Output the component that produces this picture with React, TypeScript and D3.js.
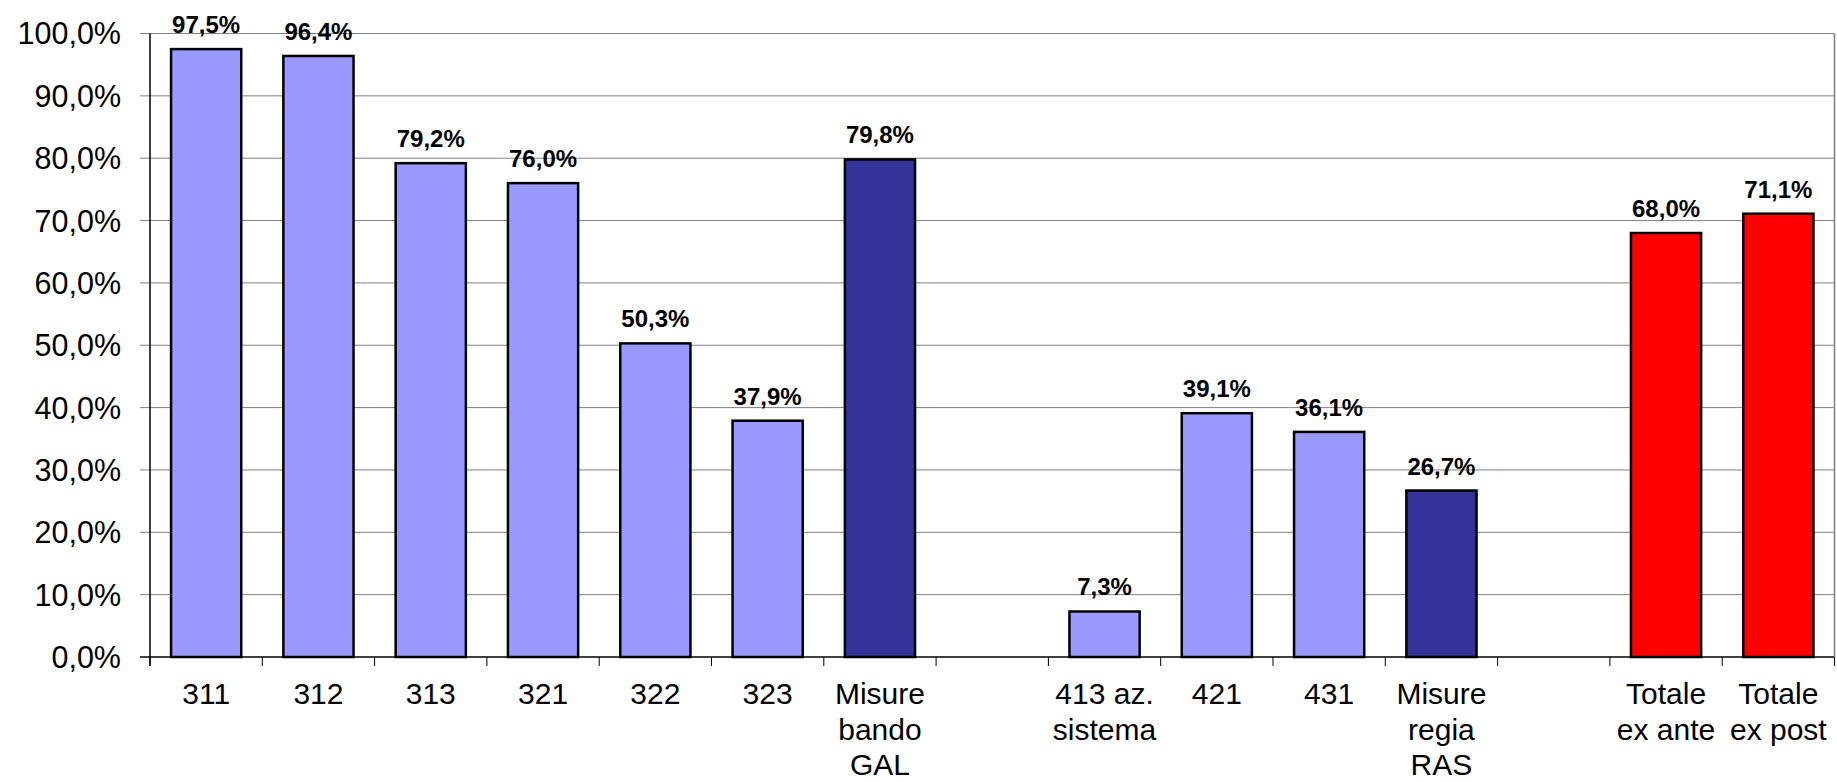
import React from "react";
import * as d3 from "d3";

const categories: string[][] = [
  ["311"], ["312"], ["313"], ["321"], ["322"], ["323"], ["Misure", "bando", "GAL"],
  [""], ["413 az.", "sistema"], ["421"], ["431"], ["Misure", "regia", "RAS"],
  [""], ["Totale", "ex ante"], ["Totale", "ex post"],
];
const values: (number | null)[] = [97.5, 96.4, 79.2, 76.0, 50.3, 37.9, 79.8, null, 7.3, 39.1, 36.1, 26.7, null, 68.0, 71.1];
const kinds: string[] = ["m", "m", "m", "m", "m", "m", "g", "", "m", "m", "m", "g", "", "t", "t"];
const yTicks: number[] = [0, 10, 20, 30, 40, 50, 60, 70, 80, 90, 100];

const colorOf: Record<string, string> = { m: "#9999FF", g: "#333399", t: "#FF0000" };
const fmt = (v: number) => v.toFixed(1).replace(".", ",") + "%";

export default function App() {
  const W = 1837, H = 782;
  const left = 150, right = 1834.5, top = 33.5, bottom = 657;
  const x = d3.scaleBand<number>().domain(d3.range(categories.length)).range([left, right]).paddingInner(0).paddingOuter(0);
  const y = d3.scaleLinear().domain([0, 100]).range([bottom, top]);
  const bw = x.bandwidth() / 1.6;
  const font = "Arial, 'Liberation Sans', Helvetica, sans-serif";
  return (
    <svg width={W} height={H} style={{ position: "absolute", left: 0, top: 0, background: "#fff" }} fontFamily={font}>
      {yTicks.map((t) => (
        <line key={"g" + t} x1={left - 10} x2={right} y1={y(t)} y2={y(t)} stroke={t === 0 ? "#000" : "#808080"} strokeWidth={t === 0 ? 1.5 : 1} />
      ))}
      <line x1={right} x2={right} y1={top} y2={bottom} stroke="#808080" strokeWidth={1.5} />
      <line x1={left} x2={left} y1={top} y2={bottom + 9} stroke="#000" strokeWidth={1.5} />
      {yTicks.map((t) => (
        <text key={"yt" + t} x={left - 29} y={y(t)} dy="0.36em" textAnchor="end" fontSize={30.5} fill="#000">{fmt(t)}</text>
      ))}
      {d3.range(categories.length + 1).map((i) => {
        const xx = left + i * x.step();
        return <line key={"xt" + i} x1={xx} x2={xx} y1={bottom} y2={bottom + 9} stroke="#000" strokeWidth={1} />;
      })}
      {values.map((v, i) => {
        if (v === null) return null;
        const cx = (x(i) as number) + x.bandwidth() / 2;
        return (
          <g key={"b" + i}>
            <rect x={cx - bw / 2} y={y(v)} width={bw} height={y(0) - y(v)} fill={colorOf[kinds[i]]} stroke="#000" strokeWidth={2.5} />
            <text x={cx} y={y(v) - 16} textAnchor="middle" fontSize={24} fontWeight="bold" fill="#000">{fmt(v)}</text>
          </g>
        );
      })}
      {categories.map((lines, i) => {
        const cx = (x(i) as number) + x.bandwidth() / 2;
        return (
          <text key={"c" + i} x={cx} y={704} textAnchor="middle" fontSize={30} fill="#000">
            {lines.map((l, j) => (
              <tspan key={j} x={cx} y={704 + j * 35.5}>{l}</tspan>
            ))}
          </text>
        );
      })}
    </svg>
  );
}
